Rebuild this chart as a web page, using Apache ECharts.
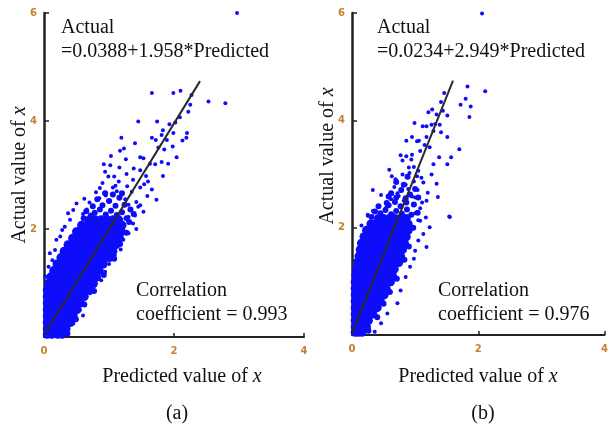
<!DOCTYPE html>
<html><head><meta charset="utf-8">
<script src="https://cdn.jsdelivr.net/npm/echarts@6/dist/echarts.min.js"></script>
<style>html,body{margin:0;padding:0;background:#fff}#c{width:611px;height:432px}</style>
</head><body><div id="c"></div>
<script>
// ---- data ----
const xTicks = [0, 2, 4];
const yTicks = [0, 2, 4, 6];
const eqA = '=0.0388+1.958*Predicted';
const eqB = '=0.0234+2.949*Predicted';
const corrA = 'coefficient = 0.993';
const corrB = 'coefficient = 0.976';
// fitted lines: [x, y] end points
const lineA = [[0, 0.0388], [2.40, 4.738]];
const lineB = [[0, 0.0234], [1.60, 4.742]];
// dense cloud (a): rows of [actual, [predicted...]]
const coreA = [
 [0.05,[0.05,0.12,0.21,0.28]],
 [0.15,[0.05,0.11,0.19,0.28,0.34]],
 [0.27,[0.05,0.11,0.19,0.28,0.37,0.41]],
 [0.39,[0.05,0.11,0.19,0.28,0.37,0.45]],
 [0.51,[0.05,0.11,0.19,0.28,0.37,0.46,0.51]],
 [0.63,[0.05,0.11,0.19,0.28,0.37,0.46,0.55]],
 [0.75,[0.05,0.11,0.20,0.29,0.38,0.47,0.56,0.62]],
 [0.87,[0.05,0.12,0.21,0.30,0.39,0.48,0.57,0.66,0.70]],
 [0.99,[0.07,0.14,0.23,0.32,0.41,0.50,0.59,0.68,0.76]],
 [1.11,[0.10,0.18,0.27,0.36,0.45,0.54,0.63,0.72,0.81]],
 [1.23,[0.15,0.22,0.31,0.40,0.49,0.58,0.67,0.76,0.85]],
 [1.35,[0.20,0.27,0.36,0.45,0.54,0.63,0.72,0.81,0.91]],
 [1.47,[0.26,0.32,0.41,0.50,0.59,0.68,0.77,0.86,0.95,1.01]],
 [1.59,[0.31,0.38,0.47,0.56,0.65,0.74,0.83,0.92,1.00,1.06]],
 [1.71,[0.37,0.44,0.53,0.62,0.71,0.80,0.89,0.98,1.06,1.11]],
 [1.83,[0.44,0.50,0.59,0.68,0.77,0.86,0.95,1.04,1.11,1.16]],
 [1.95,[0.50,0.57,0.66,0.75,0.84,0.93,1.02,1.11,1.19]],
 [2.07,[0.58,0.66,0.75,0.84,0.93,1.02,1.11,1.20]],
 [2.17,[0.70,0.79,0.88,0.97,1.06,1.15]]
];
// transition points (a)
const midA = [
 [0.78,2.30],[0.86,2.36],[0.95,2.27],[1.03,2.34],[1.12,2.26],[1.20,2.31],[1.27,2.20],[0.90,2.44],[1.00,2.52],
 [1.10,2.43],[0.82,2.55],[1.16,2.58],[0.72,2.25],[0.65,2.33],[1.24,2.45],[1.33,2.36],[1.06,2.64],[0.94,2.66],
 [1.31,2.13],[0.61,2.20],[0.52,1.98],[1.27,1.93],[0.38,1.72],[1.17,1.72],[0.25,1.45],[1.08,1.45],[0.13,1.19],
 [0.92,1.15],[0.77,0.85],[0.62,0.60],[0.49,0.33],[0.36,0.06],[1.20,2.66],[0.75,2.42],[1.38,2.28]
];
// scattered points (a): [predicted, actual]
const scatA = [
 [1.66,4.52],[1.99,4.52],[2.10,4.56],[2.27,4.48],[2.25,4.30],[2.53,4.36],[2.79,4.33],[2.22,4.17],[2.09,4.07],
 [1.45,3.99],[1.74,3.99],[1.93,3.94],[2.02,3.97],[1.83,3.83],[1.99,3.78],[2.20,3.78],[2.19,3.69],[2.13,3.64],
 [1.19,3.69],[1.66,3.69],[1.72,3.65],[1.81,3.74],[1.40,3.59],[1.89,3.65],[1.17,3.45],[1.23,3.49],[1.76,3.51],
 [1.85,3.47],[1.98,3.53],[2.04,3.33],[1.26,3.29],[1.48,3.33],[1.53,3.31],[0.92,3.20],[1.02,3.18],[1.16,3.14],
 [1.63,3.21],[1.71,3.20],[1.81,3.24],[1.91,3.21],[1.48,3.09],[1.57,2.98],[0.94,3.06],[1.08,2.97],[1.27,3.02],
 [0.99,2.97],[1.83,2.98],[1.37,2.91],[0.86,2.76],[1.06,2.77],[1.28,2.79],[1.48,2.77],[1.66,2.73],[1.54,2.83],
 [1.19,2.63],[1.35,2.69],[1.59,2.61],[1.73,2.54],[0.70,2.49],[0.85,2.57],[0.60,2.28],[0.76,2.41],[0.66,2.36],
 [1.45,2.41],[1.53,2.32],[0.55,2.09],[0.95,2.62],[1.02,2.52],[1.12,2.70],[1.25,2.55],[0.90,2.85],[1.15,2.88],
 [1.42,2.50],[1.30,2.45],[0.62,2.56],[1.40,2.25],[1.42,2.00],[1.30,1.92],[1.18,1.62],[1.00,1.35],[0.88,1.05],
 [0.62,0.62],[1.03,3.35],[1.10,2.80],[0.80,2.68],[1.38,3.12],[1.60,2.88],
 [0.09,1.55],[0.17,1.61],[0.25,1.86],[0.32,2.04],[0.40,2.17],[0.07,1.30],[0.02,1.12],[0.19,1.80],[0.37,2.29],
 [0.45,2.35],[0.50,2.47],[0.13,1.42],[0.28,1.98],
 [1.48,2.44],[1.37,2.10],[1.22,1.80],[1.09,1.52],[0.94,1.21],[0.71,0.81],[0.55,0.50],[0.45,0.25],[0.30,0.07],
 [0.35,0.13],[0.78,0.95],[0.60,0.40],[1.15,1.70],[1.30,2.22],
 [2.97,6.00]
];
// dense cloud (b)
const coreB = [
 [0.05,[0.05,0.10,0.16]],
 [0.15,[0.05,0.10,0.18,0.23]],
 [0.27,[0.05,0.10,0.18,0.26]],
 [0.39,[0.05,0.10,0.18,0.27,0.33]],
 [0.51,[0.05,0.10,0.18,0.27,0.36,0.40]],
 [0.63,[0.05,0.10,0.18,0.27,0.36,0.45]],
 [0.75,[0.05,0.10,0.18,0.27,0.36,0.45,0.51]],
 [0.87,[0.05,0.10,0.18,0.27,0.36,0.45,0.54]],
 [0.99,[0.05,0.11,0.19,0.28,0.37,0.46,0.55,0.61]],
 [1.11,[0.06,0.12,0.20,0.29,0.38,0.47,0.56,0.64]],
 [1.23,[0.07,0.14,0.22,0.31,0.40,0.49,0.58,0.67]],
 [1.35,[0.09,0.16,0.24,0.33,0.42,0.51,0.60,0.69,0.74]],
 [1.47,[0.11,0.18,0.26,0.35,0.44,0.53,0.62,0.71,0.77]],
 [1.59,[0.13,0.20,0.28,0.37,0.46,0.55,0.64,0.73,0.80]],
 [1.71,[0.15,0.22,0.30,0.39,0.48,0.57,0.66,0.75,0.83]],
 [1.83,[0.19,0.26,0.34,0.43,0.52,0.61,0.70,0.79,0.86]],
 [1.95,[0.23,0.30,0.38,0.47,0.56,0.65,0.74,0.83,0.89]],
 [2.07,[0.30,0.37,0.45,0.54,0.63,0.72,0.81,0.89]],
 [2.17,[0.42,0.50,0.59,0.68,0.77,0.86]]
];
const midB = [
 [0.45,2.27],[0.53,2.33],[0.62,2.25],[0.70,2.31],[0.79,2.26],[0.87,2.34],[0.94,2.24],[0.58,2.42],[0.68,2.48],
 [0.77,2.40],[0.86,2.47],[0.55,2.46],[0.70,2.56],[0.85,2.55],[0.98,2.43],[0.62,2.64],[0.78,2.70],[0.92,2.62],
 [0.70,2.85],[0.88,2.95],[1.05,2.56],[0.42,2.40],[0.31,2.20],[1.04,2.28],[0.24,1.98],[0.97,2.00],[0.17,1.70],
 [0.90,1.65],[0.11,1.45],[0.83,1.40],[0.71,1.05],[0.60,0.80],[0.50,0.58],[0.40,0.33],[0.26,0.08],[0.58,2.58],
 [0.82,2.80],[1.00,2.72],[0.36,2.30]
];
const scatB = [
 [1.83,4.63],[2.11,4.54],[1.46,4.51],[1.80,4.40],[1.72,4.29],[1.88,4.26],[1.41,4.34],[1.86,4.06],[1.21,4.15],
 [1.27,4.20],[1.34,4.11],[1.44,4.18],[1.51,4.09],[0.99,3.95],[1.12,3.89],[1.18,3.89],[1.26,3.92],[1.32,3.93],
 [1.39,3.92],[1.29,3.80],[1.41,3.78],[0.95,3.69],[1.06,3.62],[1.18,3.69],[1.51,3.69],[0.86,3.62],[1.03,3.61],
 [1.15,3.54],[1.23,3.50],[1.70,3.46],[1.08,3.43],[0.77,3.35],[0.86,3.33],[0.95,3.36],[1.38,3.31],[1.57,3.31],
 [0.80,3.25],[0.94,3.27],[1.51,3.18],[1.29,3.18],[0.59,3.08],[0.90,3.12],[0.98,3.13],[1.05,3.06],[0.63,2.96],
 [0.80,2.99],[0.91,3.02],[1.03,2.96],[1.10,2.93],[1.26,2.99],[0.69,2.90],[0.98,2.86],[1.13,2.84],[1.34,2.82],
 [0.33,2.70],[0.67,2.76],[0.77,2.69],[0.89,2.72],[1.04,2.70],[1.20,2.65],[1.36,2.57],[0.46,2.61],[0.62,2.53],
 [0.74,2.59],[0.82,2.50],[1.00,2.56],[1.11,2.47],[1.18,2.50],[0.25,2.24],[0.38,2.31],[0.54,2.37],[1.55,2.20],
 [1.17,2.19],[1.05,2.14],[1.00,2.27],[0.85,2.80],[0.72,2.64],[0.95,2.58],[1.08,2.36],
 [1.54,2.21],[1.23,2.01],[1.13,1.88],[1.05,1.76],[1.00,1.57],[0.92,1.27],[0.85,1.08],[0.77,0.83],[0.72,0.59],
 [0.56,0.40],[0.46,0.22],[0.36,0.06],[1.18,1.64],[1.08,2.13],[0.98,1.42],
 [0.25,2.22],[0.10,1.57],[0.05,1.39],[0.18,1.82],[0.33,2.31],[0.15,2.04],
 [2.06,5.99]
];

// ---- build ----
function expand(rows){ const out=[]; rows.forEach(r=>r[1].forEach(x=>out.push([x,r[0]]))); return out; }
const blue = '#0d0dfa';
const serif = '"Liberation Serif","Times New Roman",serif';
const tickColor = '#c4812e';

function xAx(g){ return {gridIndex:g,type:'value',min:xTicks[0],max:xTicks[xTicks.length-1],interval:2,
  axisLine:{show:true,onZero:false,lineStyle:{color:'#222',width:2}},
  axisTick:{show:true,inside:true,length:4,lineStyle:{color:'#222',width:1.5}},
  axisLabel:{margin:9,color:tickColor,fontWeight:'bold',fontSize:10,fontFamily:'"DejaVu Sans",sans-serif'},
  splitLine:{show:false}}; }
function yAx(g){ return {gridIndex:g,type:'value',min:yTicks[0],max:yTicks[yTicks.length-1],interval:2,
  axisLine:{show:true,onZero:false,lineStyle:{color:'#222',width:2.5}},
  axisTick:{show:true,inside:true,length:5,lineStyle:{color:'#222',width:1.5}},
  axisLabel:{margin:7,color:tickColor,fontWeight:'bold',fontSize:10,fontFamily:'"DejaVu Sans",sans-serif',
    formatter:v=>v===0?'':String(v)},
  splitLine:{show:false}}; }

function txt(x,y,text,align){ return {type:'text',x:x,y:y,
  style:{text:text,font:'20px '+serif,fill:'#111',align:align||'left',verticalAlign:'middle'}}; }
const rich = {n:{fontFamily:serif,fontSize:20,color:'#111'},i:{fontFamily:serif,fontSize:20,fontStyle:'italic',color:'#111'}};
function xTitle(x,y){ return {type:'text',x:x,y:y,
  style:{text:'{n|Predicted value of }{i|x}',rich:rich,align:'center',verticalAlign:'middle',fill:'#111'}}; }
function yTitle(x,y){ return {type:'text',x:x,y:y,rotation:Math.PI/2,
  style:{text:'{n|Actual value of }{i|x}',rich:rich,align:'center',verticalAlign:'middle',fill:'#111'}}; }
function sc(xi,data,size){ return {type:'scatter',xAxisIndex:xi,yAxisIndex:xi,data:data,symbolSize:size,
  itemStyle:{color:blue,opacity:1},silent:true}; }

const chart = echarts.init(document.getElementById('c'),null,{renderer:'canvas'});
chart.setOption({
  animation:false,
  backgroundColor:'#fff',
  grid:[{left:44,top:13,width:260,height:324},{left:352,top:13,width:258,height:322}],
  xAxis:[xAx(0),xAx(1)],
  yAxis:[yAx(0),yAx(1)],
  series:[
    sc(0,expand(coreA),9), sc(0,midA,6), sc(0,scatA,4),
    {type:'line',xAxisIndex:0,yAxisIndex:0,data:lineA,symbol:'none',lineStyle:{color:'#2a2a2a',width:2},z:5},
    sc(1,expand(coreB),9), sc(1,midB,6), sc(1,scatB,4),
    {type:'line',xAxisIndex:1,yAxisIndex:1,data:lineB,symbol:'none',lineStyle:{color:'#2a2a2a',width:2},z:5}
  ],
  graphic:[
    txt(61,28,'Actual'), txt(61,52,eqA),
    txt(136,291,'Correlation'), txt(136,315,corrA),
    txt(377,28,'Actual'), txt(377,52,eqB),
    txt(438,291,'Correlation'), txt(438,315,corrB),
    xTitle(182,377), xTitle(478,377),
    yTitle(20,175), yTitle(328,156),
    txt(177,414,'(a)','center'), txt(483,414,'(b)','center')
  ]
});
</script></body></html>
